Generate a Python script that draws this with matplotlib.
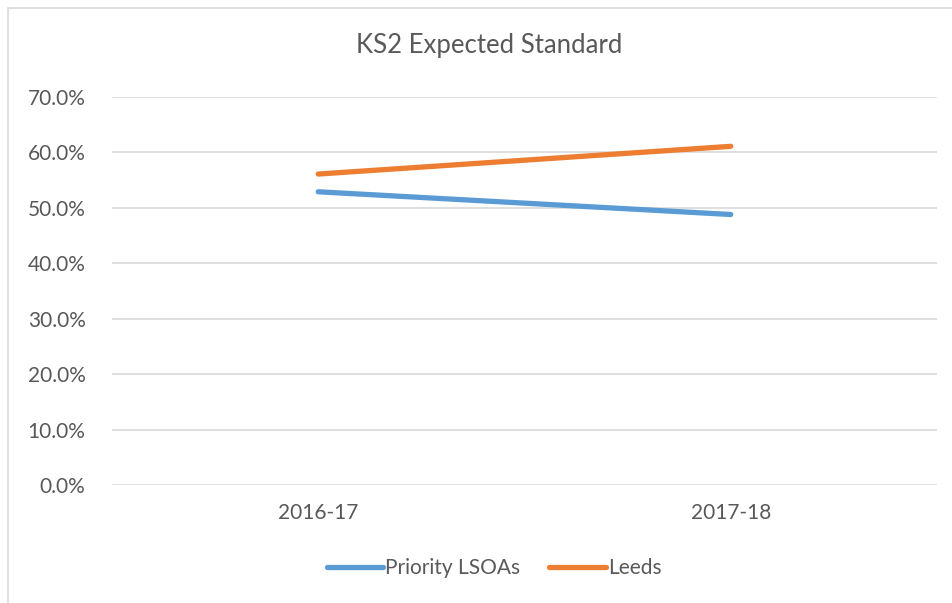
import matplotlib
matplotlib.use("Agg")
import matplotlib.pyplot as plt
from matplotlib.patches import Rectangle
from matplotlib.ticker import FuncFormatter, MultipleLocator

categories = ["2016-17", "2017-18"]
priority_lsoas = [0.529, 0.488]
leeds = [0.561, 0.611]
series_names = ["Priority LSOAs", "Leeds"]
title = "KS2 Expected Standard"

plt.rcParams['font.family'] = ['Lato', 'DejaVu Sans']
text_color = "#595959"

fig = plt.figure(figsize=(9.53, 6.03), dpi=100)
ax = fig.add_axes([112/953, 1-485/603, (937-112)/953, (485-97)/603])

x = range(len(categories))
ax.plot(x, priority_lsoas, color="#5B9BD5", lw=3.8, solid_capstyle="round", label=series_names[0])
ax.plot(x, leeds, color="#ED7D31", lw=3.8, solid_capstyle="round", label=series_names[1])

ax.set_xlim(-0.5, 1.5)
ax.set_ylim(0, 0.7)
ax.yaxis.set_major_locator(MultipleLocator(0.1))
ax.yaxis.set_major_formatter(FuncFormatter(lambda v, p: f"{v*100:.1f}%"))
ax.set_xticks(list(x))
ax.set_xticklabels(categories)
ax.grid(axis="y", color="#d9d9d9", lw=1.2)
ax.set_axisbelow(True)
for s in ax.spines.values():
    s.set_visible(False)
ax.tick_params(axis="both", length=0, labelsize=15, colors=text_color)
ax.tick_params(axis="y", pad=19)
ax.tick_params(axis="x", pad=13)

fig.text(489/953, 1-46/603, title, ha="center", va="center", fontsize=18.5, color=text_color)

leg = fig.legend(loc="center", bbox_to_anchor=(494/953, 1-568/603), ncol=2, frameon=False,
                 fontsize=15, handlelength=2.7, handletextpad=0.1, columnspacing=1.4)
for t in leg.get_texts():
    t.set_color(text_color)

fig.patches.append(Rectangle((8/953, -0.1), 1.2, 1-8/603+0.1, transform=fig.transFigure,
                             fill=False, edgecolor="#d9d9d9", lw=1.2))

fig.savefig("out.png", dpi=100)
